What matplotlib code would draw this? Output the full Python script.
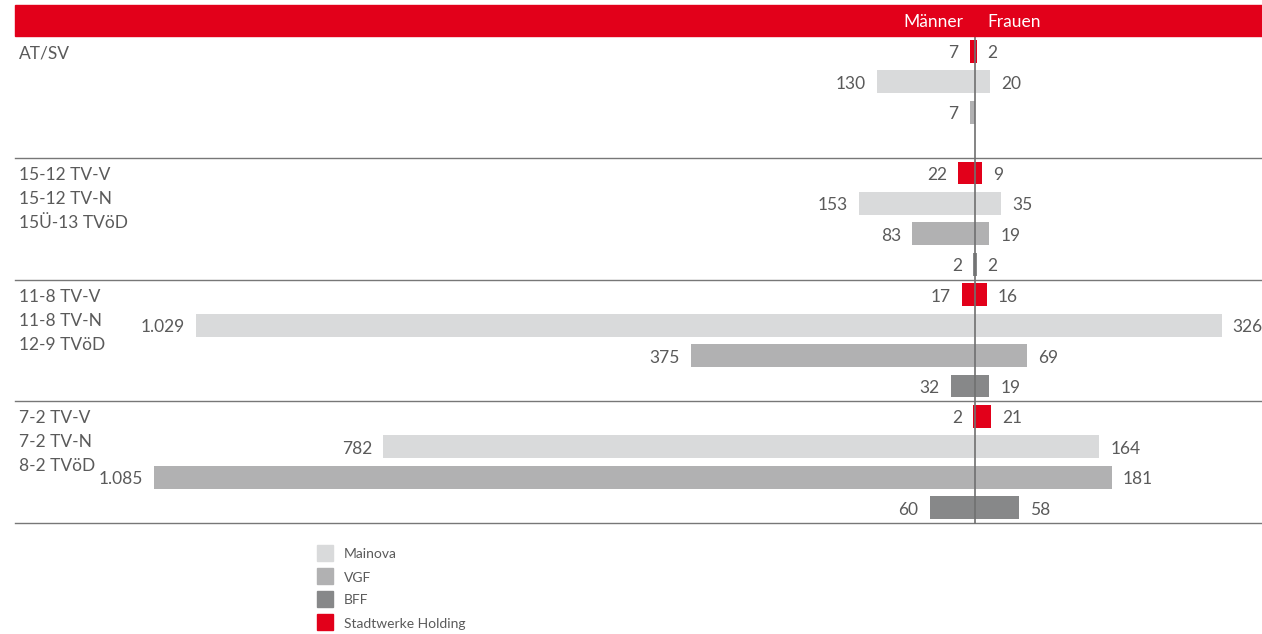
import matplotlib
matplotlib.use("Agg")
import matplotlib.pyplot as plt
from matplotlib.patches import Rectangle

plt.rcParams['font.family'] = ['Lato', 'DejaVu Sans']

# ---- data ----
groups = ["AT/SV", "15-12 TV-V\n15-12 TV-N\n15Ü-13 TVöD",
          "11-8 TV-V\n11-8 TV-N\n12-9 TVöD", "7-2 TV-V\n7-2 TV-N\n8-2 TVöD"]
companies = ["Stadtwerke Holding", "Mainova", "VGF", "BFF"]
legend_order = ["Mainova", "VGF", "BFF", "Stadtwerke Holding"]
colors = {"Mainova": "#d9dadb", "VGF": "#b1b1b2", "BFF": "#878889",
          "Stadtwerke Holding": "#e2001a"}

# men / women per group, in company order (None = not present)
men = [
    [7, 130, 7, None],
    [22, 153, 83, 2],
    [17, 1029, 375, 32],
    [2, 782, 1085, 60],
]
women = [
    [2, 20, 0, None],
    [9, 35, 19, 2],
    [16, 326, 69, 19],
    [21, 164, 181, 58],
]

def fmt(v):
    return f"{v:,}".replace(",", ".")

W, H = 1262, 634
fig = plt.figure(figsize=(W / 100, H / 100), dpi=100)

def fx(px):
    return px / W

def fy(py):
    return 1 - py / H

# axes: x from 15 to 1262 px, y from 36 to 523 px
ax = fig.add_axes([fx(15), fy(523), fx(1262) - fx(15), fy(36) - fy(523)])
scale = 0.757  # px per unit
center = 975
ax.set_xlim((15 - center) / scale, (1262 - center) / scale)
ax.set_ylim(16, 0)
ax.axis("off")

text_col = "#5a5a5a"
fs = 12.5
bar_h = 0.75
dy = -2

for g in range(4):
    for c, comp in enumerate(companies):
        m = men[g][c]
        w = women[g][c]
        if m is None:
            continue
        y = g * 4 + c + 0.5
        col = colors[comp]
        ax.barh(y, -m, height=bar_h, color=col, left=0, zorder=2)
        if w:
            ax.barh(y, w, height=bar_h, color=col, left=0, zorder=2)
        ax.annotate(fmt(m), (-m, y), xytext=(-11, dy), textcoords="offset pixels",
                    ha="right", va="center", fontsize=fs, color=text_col,
                    annotation_clip=False)
        if w:
            ax.annotate(fmt(w), (w, y), xytext=(11, dy), textcoords="offset pixels",
                        ha="left", va="center", fontsize=fs, color=text_col,
                        annotation_clip=False)
    # separator line
    ax.axhline((g + 1) * 4, color="#777777", lw=1.0, zorder=1, clip_on=False)
    # group label
    lines = groups[g].split("\n")
    for i, ln in enumerate(lines):
        ax.annotate(ln, (0, g * 4 + 0.5), xycoords=("axes fraction", "data"),
                    xytext=(4, dy - i * 24), textcoords="offset pixels",
                    ha="left", va="center", fontsize=fs, color=text_col)

ax.axvline(0, color="#707070", lw=1.2, zorder=3, clip_on=False)

# header band
fig.patches.append(Rectangle((fx(15), fy(36)), fx(1262) - fx(15), fy(5) - fy(36),
                             transform=fig.transFigure, color="#e2001a", zorder=0))
fig.text(fx(963), fy(22), "Männer", ha="right", va="center", color="white", fontsize=fs)
fig.text(fx(987), fy(22), "Frauen", ha="left", va="center", color="white", fontsize=fs)

# legend
for i, comp in enumerate(legend_order):
    yc = 553 + i * 23
    fig.patches.append(Rectangle((fx(317), fy(yc + 8)), fx(16), 16 / H,
                                 transform=fig.transFigure, color=colors[comp]))
    fig.text(fx(344), fy(yc + 1.5), comp, ha="left", va="center", color=text_col, fontsize=10)

fig.savefig("out.png", dpi=100)
